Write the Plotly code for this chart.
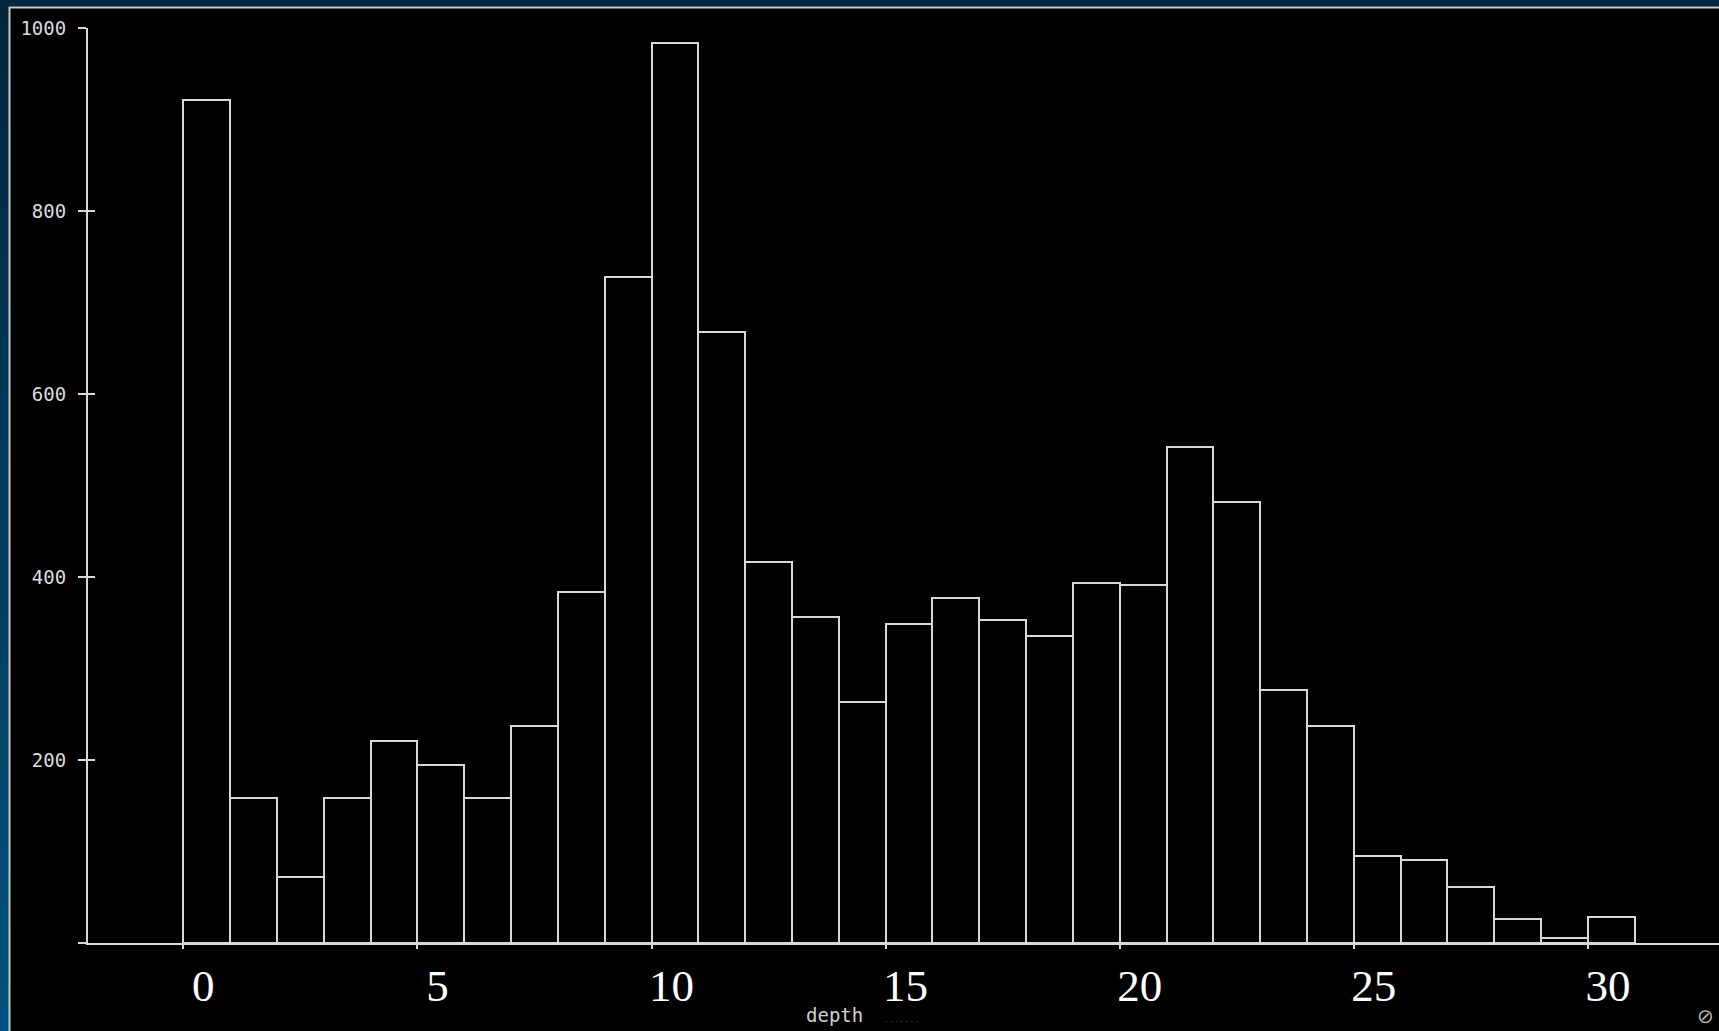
import plotly.graph_objects as go

# ---- data ----
bin_starts = list(range(31))
counts = [921, 158, 72, 158, 221, 195, 158, 237, 384, 728, 984, 668, 416, 356, 263,
          349, 377, 353, 335, 393, 391, 542, 482, 277, 237, 95, 91, 61, 26, 5, 28]
x_ticks = [0, 5, 10, 15, 20, 25, 30]
x_tick_labels = ["0", "5", "10", "15", "20", "25", "30"]
y_ticks = [0, 200, 400, 600, 800, 1000]
y_tick_labels = ["", "200", "400", "600", "800", "1000"]
x_title = "depth"

W, H = 1719, 1031
L, R, T, B = 88, 0, 28, 88
PW, PH = W - L - R, H - T - B

px_per_unit = 46.82
x0_px = 183.3
x_range = [(L - x0_px) / px_per_unit, (W - R - x0_px) / px_per_unit]


def px(xp):
    return (xp - L) / PW


def py(yp):
    return (H - B - yp) / PH


fig = go.Figure()
fig.add_trace(go.Bar(
    x=bin_starts, y=counts, width=1, offset=0,
    marker=dict(color="black", line=dict(color="#d8d8d8", width=2)),
    showlegend=False, hoverinfo="skip",
))
fig.add_trace(go.Scatter(x=[None], y=[None], yaxis="y2", showlegend=False,
                         hoverinfo="skip", mode="markers"))

shapes = []
# left gradient strip
n = 40
for i in range(n):
    t = i / (n - 1)
    r, g, b = 0, int(0x26 + (0x52 - 0x26) * t), int(0x3e + (0x7e - 0x3e) * t)
    shapes.append(dict(type="rect", xref="paper", yref="paper",
                       x0=px(0), x1=px(9), y0=py(i * H / n), y1=py((i + 1) * H / n + 1),
                       fillcolor=f"rgb({r},{g},{b})", line=dict(width=0), layer="below"))
# top strip
shapes.append(dict(type="rect", xref="paper", yref="paper",
                   x0=px(0), x1=px(W), y0=py(0), y1=py(7),
                   fillcolor="#00263e", line=dict(width=0), layer="below"))
# border lines
shapes.append(dict(type="line", xref="paper", yref="paper",
                   x0=px(9.5), x1=px(9.5), y0=py(7), y1=py(H),
                   line=dict(color="#c8c8c8", width=2)))
shapes.append(dict(type="line", xref="paper", yref="paper",
                   x0=px(9), x1=px(W), y0=py(7.5), y1=py(7.5),
                   line=dict(color="#c8c8c8", width=2)))

annotations = [
    dict(text=x_title, xref="paper", yref="paper", x=px(834), y=py(1015),
         showarrow=False, xanchor="center", yanchor="middle",
         font=dict(family="DejaVu Sans Mono", size=19, color="#d0d0d0")),
    dict(text="· · · · · · ·", xref="paper", yref="paper", x=px(901), y=py(1022),
         showarrow=False, xanchor="center", yanchor="middle",
         font=dict(family="DejaVu Sans", size=8, color="#555555")),
    dict(text="⊘", xref="paper", yref="paper", x=px(1705), y=py(1016),
         showarrow=False, xanchor="center", yanchor="middle",
         font=dict(family="DejaVu Sans", size=20, color="#bbbbbb")),
]

fig.update_layout(
    width=W, height=H,
    margin=dict(l=L, r=R, t=T, b=B, pad=0),
    paper_bgcolor="black", plot_bgcolor="black",
    bargap=0,
    shapes=shapes,
    annotations=annotations,
    xaxis=dict(
        range=x_range, tickmode="array", tickvals=x_ticks, ticktext=x_tick_labels,
        showgrid=False, zeroline=False,
        showline=True, linecolor="#d8d8d8", linewidth=2,
        ticks="outside", ticklen=4, tickcolor="#d8d8d8", tickwidth=2,
        tickfont=dict(family="Liberation Serif, Times New Roman, serif", size=45, color="white"),
        ticklabelshift=20, ticklabelstandoff=-2,
    ),
    yaxis=dict(
        range=[0, 1000], tickmode="array", tickvals=y_ticks, ticktext=y_tick_labels,
        showgrid=False, zeroline=False,
        showline=True, linecolor="#d8d8d8", linewidth=2,
        ticks="outside", ticklen=8, tickcolor="#d8d8d8", tickwidth=2,
        tickfont=dict(family="DejaVu Sans Mono", size=19, color="#dcdcdc"),
        ticklabelstandoff=8,
    ),
    yaxis2=dict(
        range=[0, 1000], overlaying="y", side="left", anchor="x",
        tickmode="array", tickvals=y_ticks, showticklabels=False,
        showgrid=False, zeroline=False, showline=False,
        ticks="inside", ticklen=7, tickcolor="#d8d8d8", tickwidth=2,
    ),
)

fig.write_html(
    "out.html",
    config={"displayModeBar": False},
    post_script="document.body.style.margin='0';document.body.style.padding='0';"
                "document.body.style.overflow='hidden';",
)
